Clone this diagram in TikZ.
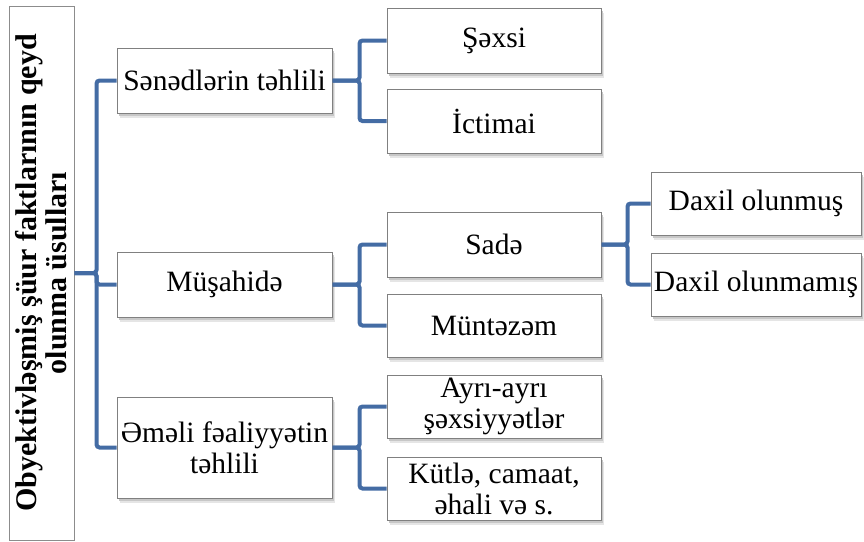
\documentclass[tikz,border=0pt]{standalone}
\usepackage{fontspec}
\setmainfont{Liberation Serif}
\usetikzlibrary{shadows}
\definecolor{conncol}{RGB}{68,108,164}
\begin{document}
\begin{tikzpicture}[x=1pt,y=-1pt,
  box/.style={draw=black!50, line width=1pt, fill=white, minimum width=214pt,
    inner sep=1pt, align=center, font=\rmfamily\fontsize{29.5}{31}\selectfont,
    general shadow={fill=black!10, shadow xshift=3pt, shadow yshift=-4.5pt},
    general shadow={fill=black!22, shadow xshift=1.5pt, shadow yshift=-2.5pt}},
  link/.style={draw=conncol, line width=4pt, rounded corners=3pt}]
\useasboundingbox (0,0) rectangle (864,541);
% root
\node[draw=black!45, line width=1pt, fill=white, minimum width=534pt, minimum height=65pt,
  inner sep=0pt, rotate=90, align=center,
  font=\rmfamily\bfseries\fontsize{30}{30}\selectfont] (root) at (41.5,273)
  {Obyektivləşmiş şüur faktlarının qeyd\\olunma üsulları};
% level 1
\node[box, minimum width=215pt, minimum height=65pt] (A) at (224.5,80.5) {Sənədlərin təhlili};
\node[box, minimum width=215pt, minimum height=65pt] (B) at (224.5,284.5) {Müşahidə};
\node[box, minimum width=215pt, minimum height=101pt] (C) at (224.5,447.5) {Əməli fəaliyyətin\\təhlili};
% level 2
\node[box, minimum height=65pt] (A1) at (494,40.5) {Şəxsi};
\node[box, minimum height=64pt] (A2) at (494,121) {İctimai};
\node[box, minimum height=65pt] (B1) at (494,244.5) {Sadə};
\node[box, minimum height=63pt] (B2) at (494,325.5) {Müntəzəm};
\node[box, minimum height=63pt] (C1) at (494,406.5) {Ayrı-ayrı\\şəxsiyyətlər};
\node[box, minimum height=63pt] (C2) at (494,488.5) {Kütlə, camaat,\\əhali və s.};
% level 3
\node[box, minimum width=210pt, minimum height=63pt] (D1) at (756,203.5) {Daxil olunmuş};
\node[box, minimum width=210pt, minimum height=63pt] (D2) at (756,284.5) {Daxil olunmamış};
% connectors
\draw[link] (root.south) -- ++(22,0) |- (A.west);
\draw[link] (root.south) -- ++(22,0) |- (B.west);
\draw[link] (root.south) -- ++(22,0) |- (C.west);
\draw[link] (A.east) -- ++(27,0) |- (A1.west);
\draw[link] (A.east) -- ++(27,0) |- (A2.west);
\draw[link] (B.east) -- ++(27,0) |- (B1.west);
\draw[link] (B.east) -- ++(27,0) |- (B2.west);
\draw[link] (C.east) -- ++(27,0) |- (C1.west);
\draw[link] (C.east) -- ++(27,0) |- (C2.west);
\draw[link] (B1.east) -- ++(26,0) |- (D1.west);
\draw[link] (B1.east) -- ++(26,0) |- (D2.west);
\end{tikzpicture}
\end{document}
